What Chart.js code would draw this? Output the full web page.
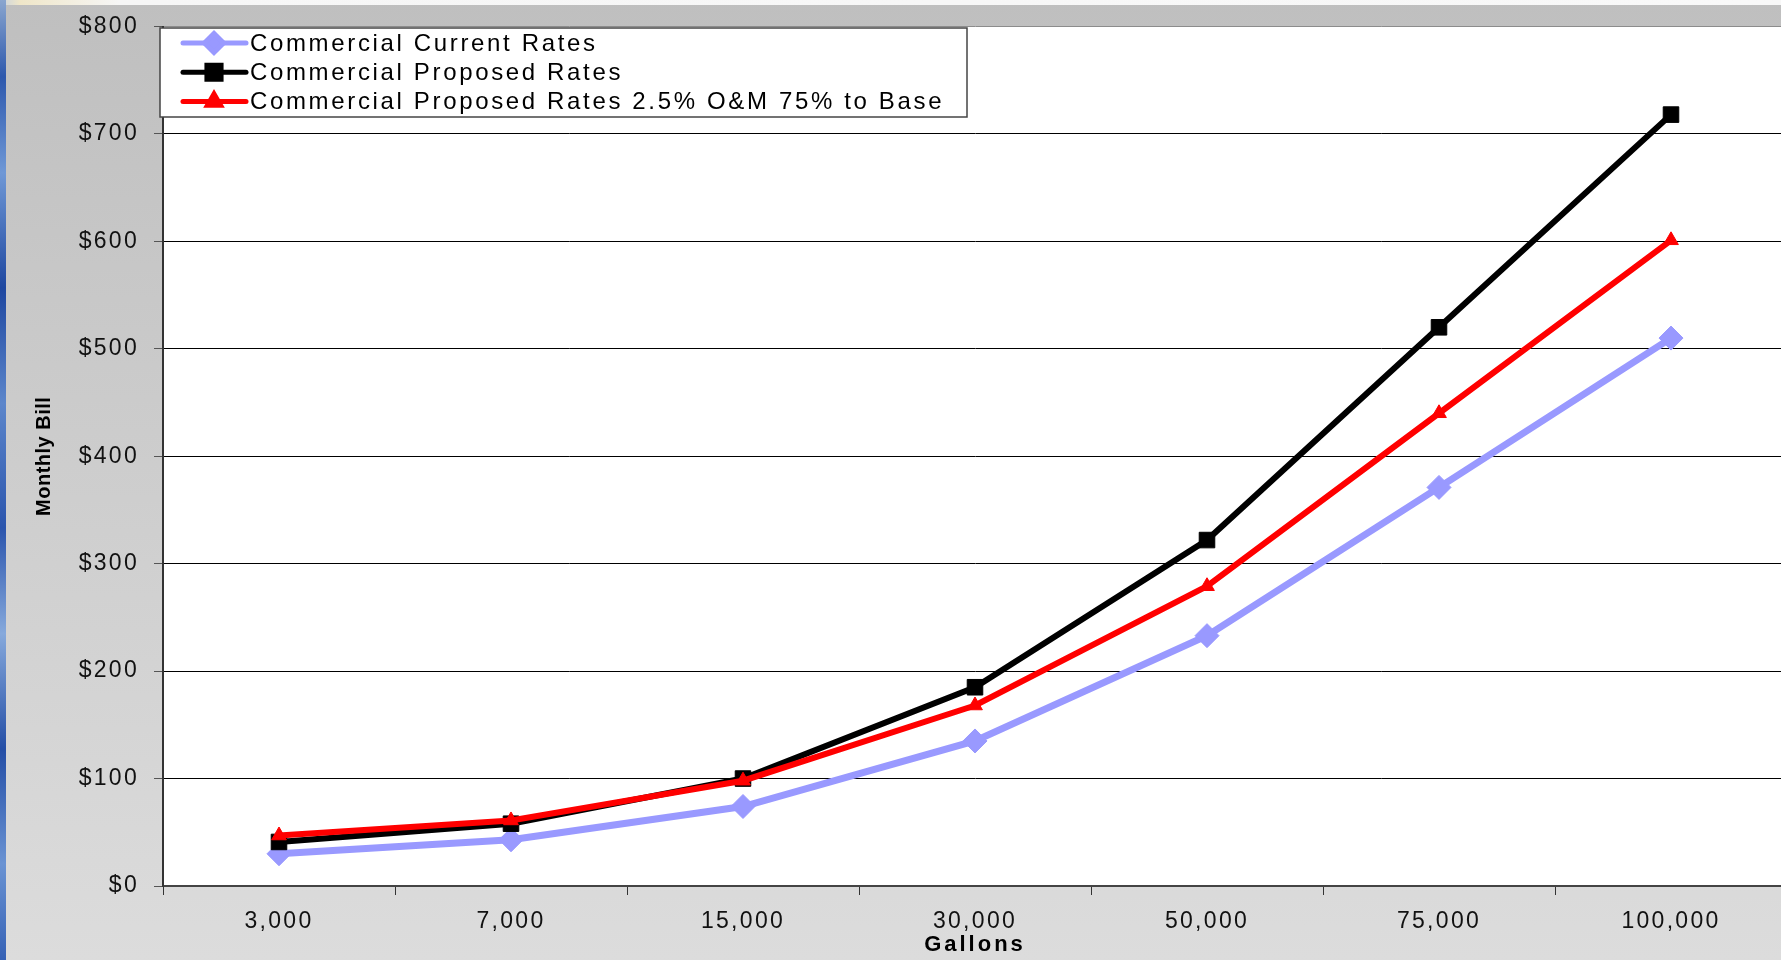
<!DOCTYPE html>
<html>
<head>
<meta charset="utf-8">
<script src="https://cdn.jsdelivr.net/npm/chart.js@4/dist/chart.umd.min.js"></script>
<style>
  html, body { margin: 0; padding: 0; overflow: hidden; background: #fff; }
  #frame {
    position: relative; width: 1781px; height: 960px; overflow: hidden;
    background: linear-gradient(to bottom, #bfbfbf 0%, #cccccc 45%, #dcdcdc 100%);
  }
  #topstrip {
    position: absolute; left: 0; top: 0; width: 1781px; height: 5px;
    background: linear-gradient(to right, #c9d3e0 0px, #efe6c8 20px, #f6f6f6 120px, #f8f8f8 100%);
  }
  #leftstrip {
    position: absolute; left: 0; top: 0; width: 6px; height: 960px;
    background: linear-gradient(to bottom, #8aa6cf 0%, #2d58ad 8%, #6f98d6 18%, #1e47a0 30%,
      #5c86cb 42%, #2b55ad 55%, #86a9dc 66%, #244ea6 78%, #6a93d3 90%, #3561b5 100%);
  }
  #chart { position: absolute; left: 0; top: 0; }
</style>
</head>
<body>
<div id="frame">
  <div id="topstrip"></div>
  <div id="leftstrip"></div>
  <canvas id="chart" width="1800" height="960"></canvas>
</div>
<script>
const gallons = ['3,000', '7,000', '15,000', '30,000', '50,000', '75,000', '100,000'];
const currentRates = [30, 43, 74, 135, 233, 371, 510];
const proposedRates = [41, 58, 100, 185, 322, 520, 718];
const proposedRates25 = [47, 61, 98, 168, 279, 440, 601];
const seriesLabels = [
  'Commercial Current Rates',
  'Commercial Proposed Rates',
  'Commercial Proposed Rates 2.5% O&M 75% to Base',
];
const yTicks = [0, 100, 200, 300, 400, 500, 600, 700, 800];
const xTitle = 'Gallons';
const yTitle = 'Monthly Bill';

const FONT = '"Liberation Sans", Arial, sans-serif';
const TICK_SPACING = '2.3px';
const titleSpacing = { x: '3px', y: '0.5px' };

// white plot area + letter spacing for all axis text
const plotBackground = {
  id: 'plotBackground',
  beforeLayout(chart) {
    chart.ctx.letterSpacing = TICK_SPACING;
  },
  beforeDraw(chart) {
    const { ctx, chartArea } = chart;
    ctx.letterSpacing = TICK_SPACING;
    ctx.save();
    ctx.fillStyle = '#ffffff';
    ctx.fillRect(chartArea.left, chartArea.top, chartArea.right - chartArea.left, chartArea.bottom - chartArea.top);
    ctx.restore();

    Object.values(chart.scales).forEach((scale) => {
      if (scale._titlePatched) return;
      const orig = scale.drawTitle;
      scale.drawTitle = function () {
        const prev = this.ctx.letterSpacing;
        this.ctx.letterSpacing = titleSpacing[this.id] || '0px';
        orig.call(this);
        this.ctx.letterSpacing = prev;
      };
      scale._titlePatched = true;
    });
  },
};

// boxed legend sitting in the top left of the plot
const boxLegend = {
  id: 'boxLegend',
  afterDraw(chart) {
    const { ctx, chartArea } = chart;
    const x0 = chartArea.left - 3;
    const y0 = chartArea.top + 1.5;
    ctx.save();
    ctx.fillStyle = '#ffffff';
    ctx.strokeStyle = '#444';
    ctx.lineWidth = 1.5;
    ctx.fillRect(x0, y0, 807, 89);
    ctx.strokeRect(x0, y0, 807, 89);

    chart.data.datasets.forEach((ds, i) => {
      const y = y0 + 15 + i * 29.3;
      ctx.strokeStyle = ds.borderColor;
      ctx.fillStyle = ds.borderColor;
      ctx.lineWidth = 5;
      ctx.lineCap = 'round';
      ctx.beginPath();
      ctx.moveTo(x0 + 23, y);
      ctx.lineTo(x0 + 86, y);
      ctx.stroke();
      const radius = [9.5, 10, 7.5][i];
      if (Chart.helpers && Chart.helpers.drawPoint) {
        Chart.helpers.drawPoint(ctx, { pointStyle: ds.pointStyle, radius: radius, borderWidth: 1, rotation: 0 }, x0 + 54, y);
      }
      ctx.fillStyle = '#000';
      ctx.font = '24px ' + FONT;
      ctx.letterSpacing = '2.65px';
      ctx.textBaseline = 'middle';
      ctx.textAlign = 'left';
      ctx.fillText(ds.label, x0 + 90, y + 1);
      ctx.letterSpacing = TICK_SPACING;
    });
    ctx.restore();
  },
};

new Chart(document.getElementById('chart'), {
  type: 'line',
  data: {
    labels: gallons,
    datasets: [
      {
        label: seriesLabels[0],
        data: currentRates,
        borderColor: '#9999ff',
        backgroundColor: '#9999ff',
        borderWidth: 7,
        pointStyle: 'rectRot',
        pointRadius: 12,
        pointBorderWidth: 1,
        order: 2,
      },
      {
        label: seriesLabels[1],
        data: proposedRates,
        borderColor: '#000000',
        backgroundColor: '#000000',
        borderWidth: 6,
        pointStyle: 'rect',
        pointRadius: 11,
        pointBorderWidth: 1,
        order: 1,
      },
      {
        label: seriesLabels[2],
        data: proposedRates25,
        borderColor: '#ff0000',
        backgroundColor: '#ff0000',
        borderWidth: 6,
        pointStyle: 'triangle',
        pointRadius: 8.5,
        pointBorderWidth: 1,
        order: 0,
      },
    ],
  },
  options: {
    responsive: false,
    animation: false,
    devicePixelRatio: 1,
    layout: { padding: { top: 24, left: 0, right: 0, bottom: 0 } },
    elements: { line: { tension: 0 } },
    plugins: {
      legend: { display: false },
      tooltip: { enabled: false },
    },
    scales: {
      x: {
        offset: true,
        grid: { offset: true, drawOnChartArea: false, tickLength: 9, color: '#333', lineWidth: 1 },
        border: { color: '#444', width: 2 },
        ticks: { color: '#111', padding: 13, font: { family: FONT, size: 23 } },
        title: {
          display: true, text: xTitle, color: '#000',
          font: { family: FONT, size: 22, weight: 'bold' },
          padding: { top: 0, bottom: 2 },
        },
        afterFit(scale) { scale.height = 74; },
      },
      y: {
        min: 0,
        max: 800,
        afterBuildTicks(scale) { scale.ticks = yTicks.map((v) => ({ value: v })); },
        grid: {
          tickLength: 9,
          tickColor: '#555',
          lineWidth: 1,
          color: (c) => (c.tick && c.tick.value === 800 ? '#8c8c8c' : '#000'),
        },
        border: { color: '#333', width: 2 },
        ticks: {
          color: '#111', padding: 15,
          font: { family: FONT, size: 23, lineHeight: 1 },
          callback: (v) => '$' + v,
        },
        title: {
          display: true, text: yTitle, color: '#000',
          font: { family: FONT, size: 20, weight: 'bold' },
          padding: { top: 32, bottom: 0 },
        },
        afterFit(scale) { scale.width = 163; },
      },
    },
  },
  plugins: [plotBackground, boxLegend],
});
</script>
</body>
</html>
